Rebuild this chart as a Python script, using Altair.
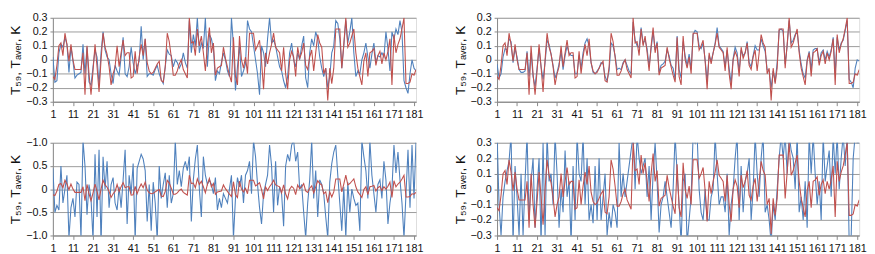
import altair as alt
import pandas as pd

x_ticks = list(range(1, 182, 10))

t_aver = [
    -0.12, -0.14, -0.04, 0.10, 0.12, 0.03, 0.19, 0.11, -0.01, 0.11,
    0.00, -0.07, -0.07, -0.07, -0.07, 0.05, -0.25, 0.10, -0.10, -0.25,
    -0.08, 0.11, -0.05, -0.23, 0.00, 0.19, 0.09, 0.04, -0.05, -0.18,
    -0.10, -0.05, 0.10, -0.05, 0.05, 0.14, 0.03, 0.05, 0.05, -0.13,
    -0.12, 0.06, -0.10, 0.02, 0.11, 0.03, 0.15, -0.02, -0.08, -0.10,
    -0.09, -0.06, -0.03, -0.01, -0.15, -0.16, -0.05, 0.19, 0.13, 0.02,
    -0.11, -0.11, -0.08, -0.03, 0.00, -0.07, -0.10, -0.13, 0.30, 0.12,
    0.13, 0.03, 0.22, 0.10, 0.17, 0.05, -0.08, 0.10, 0.23, 0.05,
    0.12, -0.11, -0.06, -0.05, -0.04, 0.09, 0.01, -0.05, -0.11, -0.16,
    0.16, -0.12, -0.18, 0.17, 0.00, -0.06, 0.02, -0.10, 0.19, 0.19,
    0.19, 0.07, 0.10, 0.14, -0.01, -0.21, 0.05, -0.03, 0.05, 0.11,
    0.19, 0.09, 0.07, 0.05, -0.08, 0.09, -0.10, -0.21, 0.00, 0.06,
    0.02, -0.12, 0.09, 0.01, 0.05, 0.12, -0.04, -0.07, 0.02, 0.07,
    -0.08, 0.05, 0.18, 0.12, 0.09, -0.10, -0.06, -0.29, -0.06, -0.17,
    -0.06, 0.22, 0.22, 0.22, -0.06, 0.11, 0.30, 0.09, 0.12, 0.17,
    0.22, 0.05, -0.06, -0.12, -0.18, -0.01, 0.05, -0.12, 0.05, 0.06,
    0.08, -0.04, 0.03, 0.06, -0.03, 0.05, 0.00, 0.06, 0.15, -0.18,
    0.18, 0.05, 0.11, 0.15, 0.22, 0.30, -0.17, -0.17, -0.16, -0.10,
    -0.11, -0.07,
]

t59_top_left = [
    0.02, -0.16, -0.15, 0.05, 0.11, 0.09, 0.16, 0.11, -0.09, 0.09,
    -0.01, -0.13, -0.11, -0.10, -0.09, 0.11, -0.10, 0.09, -0.16, -0.18,
    -0.05, 0.07, 0.02, -0.18, 0.05, 0.20, 0.07, 0.02, 0.00, -0.10,
    -0.17, -0.04, -0.08, -0.11, 0.02, 0.16, -0.10, -0.12, -0.05, 0.09,
    -0.02, -0.10, -0.05, -0.01, 0.24, 0.00, 0.15, -0.12, -0.10, -0.10,
    -0.11, -0.07, -0.04, -0.10, -0.14, -0.17, -0.05, 0.07, 0.04, 0.03,
    -0.05, 0.00, -0.02, -0.06, -0.03, 0.05, -0.02, -0.06, 0.28, 0.05,
    0.18, 0.10, 0.30, 0.05, 0.12, 0.08, 0.30, -0.05, 0.18, 0.15,
    0.08, -0.15, -0.08, -0.10, -0.02, 0.05, 0.00, -0.08, -0.12, 0.30,
    0.10, -0.22, -0.05, 0.10, -0.12, -0.08, -0.03, 0.28, 0.22, 0.20,
    0.10, 0.00, -0.10, -0.25, 0.10, 0.05, -0.05, 0.15, 0.30, 0.12,
    0.14, 0.10, 0.02, -0.05, -0.08, -0.15, -0.20, -0.12, 0.05, 0.12,
    0.00, -0.05, 0.05, 0.00, 0.10, 0.17, -0.13, -0.20, 0.05, 0.15,
    0.10, 0.20, 0.15, 0.02, -0.06, -0.12, -0.06, -0.20, -0.12, 0.05,
    0.10, 0.28, 0.26, 0.15, -0.06, 0.10, 0.28, 0.12, 0.20, 0.30,
    0.05, -0.12, -0.08, -0.10, 0.00, 0.05, 0.12, 0.02, -0.06, 0.04,
    0.12, -0.02, 0.03, 0.02, 0.05, 0.02, 0.20, 0.08, -0.08, 0.20,
    0.15, 0.22, 0.18, 0.28, 0.20, -0.15, -0.20, -0.24, -0.10, 0.00,
    -0.06, -0.08,
]

t59_top_right = [
    -0.03, -0.13, -0.10, 0.02, 0.08, 0.07, 0.15, 0.13, -0.02, 0.08,
    0.02, -0.07, -0.09, -0.09, -0.08, 0.06, -0.12, 0.05, -0.12, -0.19,
    -0.06, 0.08, -0.05, -0.14, -0.02, 0.14, 0.11, 0.04, -0.04, -0.13,
    -0.09, -0.03, 0.06, -0.07, 0.03, 0.10, 0.05, 0.03, 0.03, -0.10,
    -0.10, 0.03, -0.06, 0.05, 0.12, 0.15, 0.10, -0.02, -0.09, -0.10,
    -0.08, -0.06, -0.02, -0.03, -0.12, -0.15, -0.08, 0.12, 0.10, 0.03,
    -0.07, -0.06, -0.07, -0.02, 0.00, -0.04, -0.08, -0.10, 0.27, 0.14,
    0.10, 0.09, 0.23, 0.12, 0.14, 0.08, -0.05, 0.08, 0.20, 0.07,
    0.13, -0.09, -0.04, -0.03, -0.01, 0.07, 0.03, -0.04, -0.06, -0.14,
    0.17, -0.07, -0.13, 0.13, 0.03, -0.04, 0.04, -0.07, 0.18, 0.21,
    0.20, 0.10, 0.08, 0.12, 0.00, -0.15, 0.03, -0.01, 0.05, 0.12,
    0.23, 0.10, 0.08, 0.06, -0.05, 0.07, -0.06, -0.17, 0.01, 0.09,
    0.05, -0.08, 0.07, 0.03, 0.05, 0.13, -0.02, -0.05, 0.03, 0.10,
    0.07, 0.07, 0.15, 0.10, 0.06, -0.07, -0.08, -0.20, -0.08, -0.16,
    -0.02, 0.21, 0.22, 0.20, -0.03, 0.10, 0.28, 0.12, 0.14, 0.18,
    0.20, 0.07, -0.03, -0.10, -0.13, 0.00, 0.06, -0.07, 0.07, 0.08,
    0.08, -0.02, 0.05, 0.07, 0.00, 0.06, 0.02, 0.07, 0.16, -0.10,
    0.16, 0.07, 0.12, 0.14, 0.21, 0.28, -0.14, -0.16, -0.20, -0.06,
    0.00, -0.01,
]

t59_bottom_left = [
    0.45, -0.50, -0.35, -0.45, 0.50, -0.30, 0.00, 0.30, -1.05, -0.40,
    -0.20, -0.60, 0.15, 0.10, -1.05, 1.05, 0.50, -0.55, 0.10, -0.20,
    -1.10, 0.75, -0.60, 0.85, -1.20, 0.70, 0.00, 0.60, -0.40, 0.10,
    0.25, -0.30, -0.45, 0.05, -0.40, 0.20, 0.85, -0.75, 0.30, -0.10,
    0.55, -1.10, 0.45, 0.60, 0.75, 0.65, 0.40, -0.70, 0.10, -0.90,
    0.15, -0.30, -1.10, 0.50, -0.20, 0.10, 0.35, -0.40, 0.30, -0.30,
    -0.10, 1.05, 0.10, 0.40, 0.05, 0.45, 0.60, 0.40, 0.70, -0.70,
    0.20, 0.65, 0.95, 0.00, -0.60, 0.70, 0.30, 0.10, 0.20, 0.10,
    -0.10, 0.25, -0.45, -0.20, -0.40, -0.10, -0.20, -0.30, 0.00, 0.30,
    -1.05, -0.20, 0.25, 0.05, 0.30, -0.30, 0.30, 0.40, 0.60, -0.10,
    1.05, 0.70, 0.10, -0.40, -0.75, -0.10, 0.10, 0.30, 0.95, 0.50,
    -0.50, 0.60, -0.35, 0.05, -0.10, -0.80, 0.50, 0.75, 0.60, 0.95,
    1.05, 0.60, 0.80, 0.00, 0.10, -0.50, -1.05, -0.30, 0.20, 1.05,
    -0.20, 0.40, -0.60, 0.20, 0.10, -0.10, -0.60, -1.05, 0.15, 0.55,
    0.80, 0.95, 0.30, -0.30, -0.90, 0.05, -1.05, 0.15, -0.50, 0.00,
    -0.20, -0.35, -0.30, -0.90, 1.05, 0.70, 0.40, -0.20, 1.05, 0.30,
    -0.10, -0.50, 0.10, 0.20, -0.20, 0.60, 0.20, -0.75, -0.30, 0.00,
    0.95, 0.35, 0.80, 0.20, -0.30, -1.05, -0.10, 0.85, -0.40, 0.95,
    -0.20, 1.05,
]

t59_bottom_right = [
    0.35, -0.10, -0.30, -0.05, 0.05, 0.12, 0.18, 0.35, -0.35, 0.15,
    -0.05, -0.30, 0.10, -0.30, 0.05, 0.35, -0.20, 0.05, 0.20, -0.25,
    0.00, 0.20, -0.35, 0.30, -0.30, 0.35, 0.05, 0.10, -0.10, 0.35,
    0.10, -0.25, 0.00, -0.15, 0.25, -0.05, 0.05, -0.35, 0.15, -0.20,
    0.35, 0.10, 0.05, 0.35, -0.10, 0.20, -0.20, -0.10, -0.22, 0.15,
    -0.20, 0.20, -0.20, -0.05, 0.10, -0.30, -0.15, -0.25, -0.10, -0.15,
    -0.25, 0.30, -0.05, 0.10, -0.05, 0.05, 0.15, 0.25, 0.35, 0.00,
    0.35, 0.20, 0.10, 0.15, 0.20, -0.05, 0.15, -0.20, 0.10, 0.30,
    0.05, -0.28, -0.10, -0.05, 0.05, -0.05, -0.15, -0.25, 0.00, 0.35,
    0.10, -0.10, -0.35, 0.05, 0.10, -0.35, -0.20, -0.05, 0.35, 0.30,
    0.35, 0.00, -0.15, -0.20, 0.00, -0.20, -0.20, -0.05, 0.00, 0.35,
    0.10, -0.10, -0.05, -0.05, -0.15, 0.10, -0.30, -0.10, 0.00, 0.20,
    0.35, -0.20, 0.15, -0.15, 0.05, 0.10, 0.20, -0.20, 0.00, 0.35,
    0.10, -0.05, 0.20, 0.35, -0.15, -0.10, -0.20, -0.35, -0.10, -0.20,
    0.00, 0.20, 0.35, 0.20, 0.35, 0.10, 0.35, 0.25, 0.20, 0.00,
    0.35, -0.15, -0.05, -0.20, 0.05, -0.25, 0.35, 0.10, 0.35, 0.10,
    -0.10, 0.05, -0.20, 0.35, 0.05, 0.15, 0.25, -0.05, 0.35, 0.10,
    0.35, 0.00, 0.20, 0.35, 0.15, 0.35, -0.35, -0.30, 0.20, 0.35,
    0.30, 0.30,
]

small_ticks = [-0.3, -0.2, -0.1, 0.0, 0.1, 0.2, 0.3]
small_labels = ["−0.3", "−0.2", "−0.1", "0", "0.1", "0.2", "0.3"]
wide_ticks = [-1.0, -0.5, 0.0, 0.5, 1.0]
wide_labels = ["−1.0", "−0.5", "0", "0.5", "−1.0"]

y_title = "T₅₉, Tₐᵥₑᵣ, K"
BLUE = "#4F81BD"
RED = "#C0504D"
FONT = "Liberation Sans"


def label_expr(ticks, labels):
    expr = "''"
    for v, l in reversed(list(zip(ticks, labels))):
        expr = f"abs(datum.value - ({v})) < 1e-6 ? '{l}' : ({expr})"
    return expr


def panel(blue, ticks, labels, width, height):
    n = len(t_aver)
    df = pd.DataFrame({
        "i": list(range(1, n + 1)),
        "blue": blue,
        "red": t_aver,
    })
    x = alt.X("i:Q", scale=alt.Scale(domain=[1, n], nice=False, zero=False),
              axis=alt.Axis(values=x_ticks, grid=False, title=None, labelFontSize=11,
                            labelFont=FONT, labelColor="#111", tickSize=4,
                            tickColor="#888", domainColor="#888", labelPadding=3,
                            labelFlush=False))
    yscale = alt.Scale(domain=[ticks[0], ticks[-1]], nice=False, zero=False)
    yaxis = alt.Axis(values=ticks, labelExpr=label_expr(ticks, labels), title=y_title,
                     titleFont=FONT, titleFontSize=14, titleFontWeight="normal",
                     titleColor="#111", titlePadding=3, labelFontSize=11, labelFont=FONT,
                     labelColor="#111", tickSize=3, tickColor="#888", domainColor="#888",
                     gridColor="#9a9a9a", gridWidth=1, labelPadding=3)
    base = alt.Chart(df).encode(x=x)
    b = base.mark_line(color=BLUE, strokeWidth=1.1, clip=True).encode(
        y=alt.Y("blue:Q", scale=yscale, axis=yaxis))
    r = base.mark_line(color=RED, strokeWidth=1.1, clip=True).encode(
        y=alt.Y("red:Q", scale=yscale, axis=yaxis))
    return alt.layer(b, r).properties(width=width, height=height)


p1 = panel(t59_top_left, small_ticks, small_labels, 372, 86)
p2 = panel(t59_top_right, small_ticks, small_labels, 371, 86)
p3 = panel(t59_bottom_left, wide_ticks, wide_labels, 372, 95)
p4 = panel(t59_bottom_right, small_ticks, small_labels, 371, 95)

chart = alt.vconcat(
    alt.hconcat(p1, p2, spacing=29),
    alt.hconcat(p3, p4, spacing=29),
    spacing=16,
).properties(
    padding={"left": 0, "top": 0, "right": 0, "bottom": 0}
).configure_view(stroke="#b0b0b0", strokeWidth=1).configure(background="white")

chart.save("out.html", embed_options={"renderer": "svg", "actions": False})
